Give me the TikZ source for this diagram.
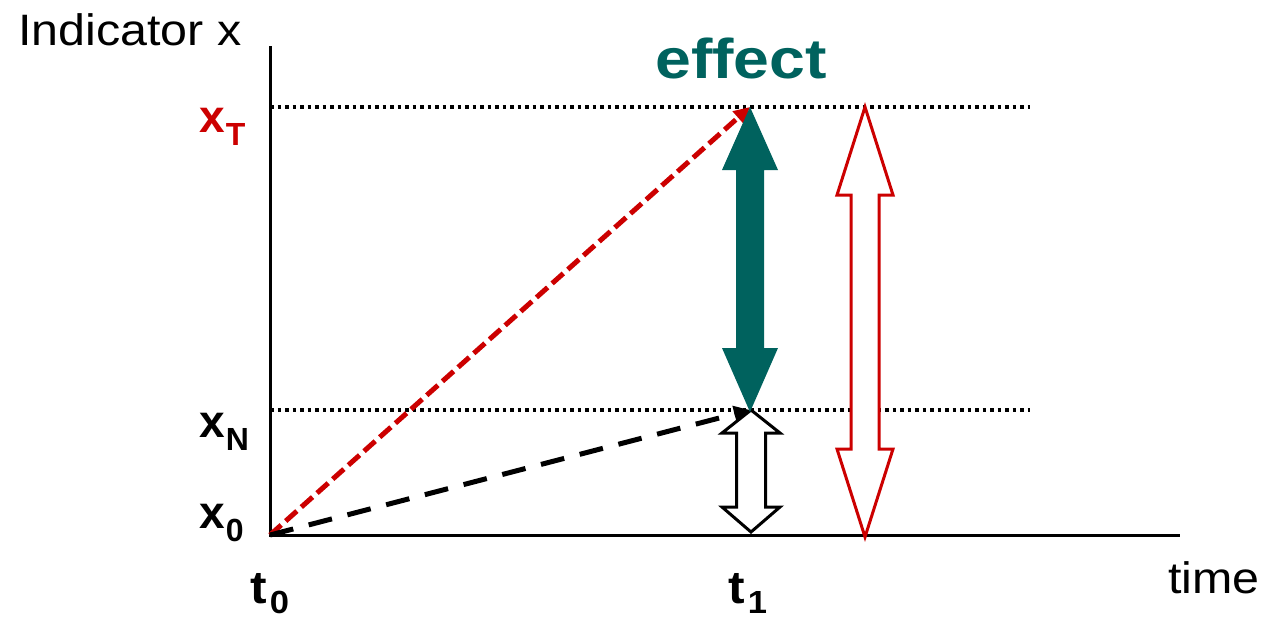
\documentclass[tikz,border=0pt]{standalone}
\usepackage{fontspec}
\setmainfont{Liberation Sans}
\usetikzlibrary{arrows.meta}
\definecolor{effectcol}{RGB}{0,98,94}
\definecolor{redcol}{RGB}{204,0,0}
\newcommand{\lab}[4]{{\fontsize{46}{46}\selectfont\bfseries #1}\kern#4pt\raisebox{-#3pt}{\fontsize{32}{32}\selectfont\bfseries #2}}
% double arrow: #1 style, #2 cx, #3 top tip, #4 top head base, #5 bottom head base, #6 bottom tip, #7 head half width, #8 shaft half width
\newcommand{\darrow}[8]{%
  \draw[#1] (#2,#3) -- ({#2+#7},#4) -- ({#2+#8},#4) -- ({#2+#8},#5) -- ({#2+#7},#5) -- (#2,#6)
    -- ({#2-#7},#5) -- ({#2-#8},#5) -- ({#2-#8},#4) -- ({#2-#7},#4) -- cycle;}
\tikzset{
  lbl/.style={inner sep=0pt, anchor=base west},
  axis/.style={line width=3pt},
  guide/.style={line width=3.5pt, dash pattern=on 3.5pt off 4pt},
}
\begin{document}
\begin{tikzpicture}[x=1pt,y=-1pt]
\useasboundingbox (0,0) rectangle (1263,621);
% coordinates
\coordinate (o) at (270,535);
\coordinate (ytop) at (270,46);
\coordinate (xend) at (1180,535);
\coordinate (pT) at (750,107);
\coordinate (pN) at (750,410);
\coordinate (gT0) at (270,107);
\coordinate (gT1) at (1030,107);
\coordinate (gN0) at (270,410);
\coordinate (gN1) at (1030,410);
% guides
\draw[guide] (gT0) -- (gT1);
\draw[guide] (gN0) -- (gN1);
% axes
\draw[axis] (ytop) -- (o) -- (xend);
% outline arrows
\darrow{draw=redcol, fill=white, line width=3pt}{865}{107}{195}{449}{537}{28}{14}
\darrow{draw=black, fill=white, line width=3pt}{751}{410}{433}{507}{532}{29}{14.5}
% dashed lines
\draw[redcol, line width=5pt, dash pattern=on 15pt off 6pt, -{Triangle[length=16pt,width=16pt]}] (o) -- (pT);
\draw[black, line width=5pt, dash pattern=on 24pt off 16pt, -{Triangle[length=16pt,width=16pt]}] (o) -- (pN);
% effect arrow
\darrow{fill=effectcol, draw=none}{750}{107}{170}{348}{412}{28}{14}
% texts
\node[lbl] (ylab) at (18,45) {\scalebox{1.1}[1]{\fontsize{44}{44}\selectfont Indicator x}};
\node[lbl] (tlab) at (1168,593) {\scalebox{1.1}[1]{\fontsize{44}{44}\selectfont time}};
\node[lbl, text=effectcol] (eff) at (655,78) {\scalebox{1.15}[1]{\fontsize{56}{56}\selectfont\bfseries effect}};
\node[lbl, text=redcol] (xT) at (199,132) {\lab{x}{T}{13}{1}};
\node[lbl] (xN) at (199,437) {\lab{x}{N}{13}{1}};
\node[lbl] (x0) at (199,528) {\lab{x}{0}{13}{1}};
\node[lbl] (t0) at (250,603) {\scalebox{1.08}[1]{\lab{t}{0}{10}{3}}};
\node[lbl] (t1) at (728,603) {\scalebox{1.08}[1]{\lab{t}{1}{10}{3}}};
\end{tikzpicture}
\end{document}
